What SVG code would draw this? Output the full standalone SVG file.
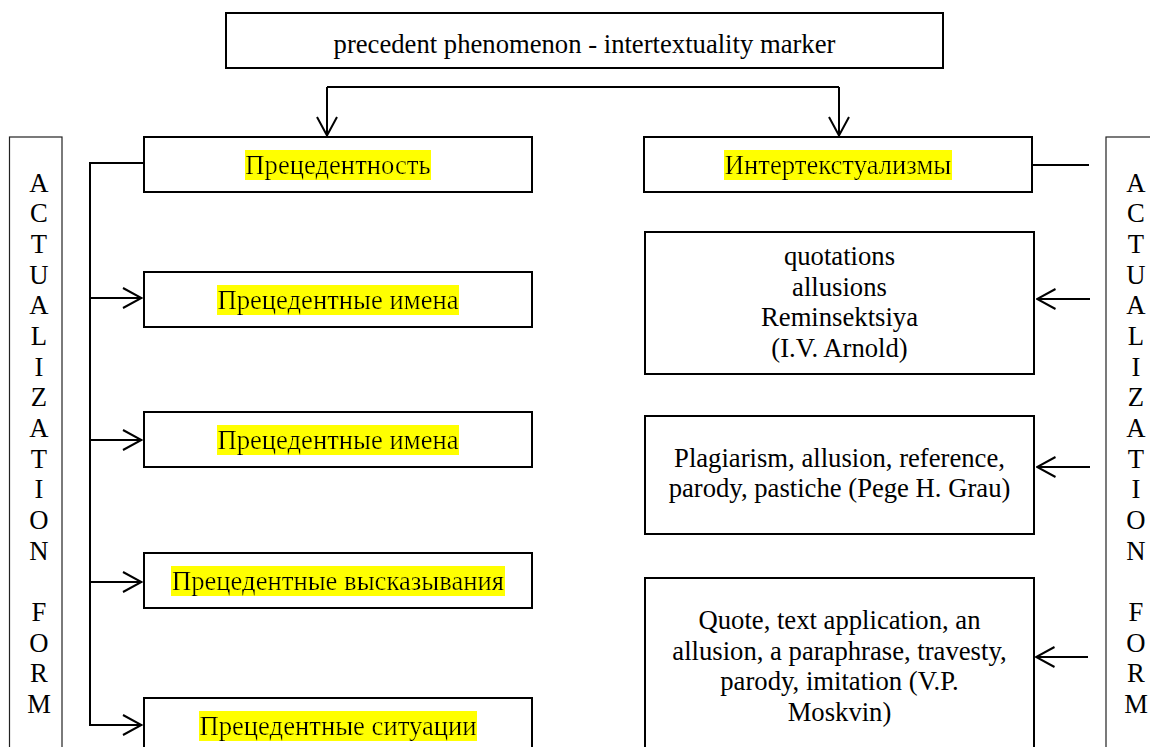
<svg xmlns="http://www.w3.org/2000/svg" width="1150" height="747" viewBox="0 0 1150 747">
  <style>
    text { font-family: "Liberation Serif", "Times New Roman", serif; font-size: 26.67px; fill: #000; }
    .c { text-anchor: middle; }
    .box { fill: #fff; stroke: #000; stroke-width: 2; }
    .side { fill: #fff; stroke: #222; stroke-width: 1.2; }
    .wire { fill: none; stroke: #000; stroke-width: 2; }
    .hl { filter: url(#mark); }
  </style>
  <defs>
    <!-- yellow highlighter behind a text run: flood fills the text's own box -->
    <filter id="mark" x="0" y="0" width="1" height="1">
      <feFlood flood-color="#ffff00"/>
      <feMerge>
        <feMergeNode/>
        <feMergeNode in="SourceGraphic"/>
      </feMerge>
    </filter>
    <marker id="open" viewBox="0 0 21 22" refX="19.5" refY="11" markerWidth="21" markerHeight="22" markerUnits="userSpaceOnUse" orient="auto">
      <path d="M1,1 L19.5,11 L1,21" fill="none" stroke="#000" stroke-width="2"/>
    </marker>
  </defs>

  <!-- vertical side labels -->
  <g id="side-left">
    <rect class="side" x="9.5" y="137" width="52.5" height="630"/>
    <text class="c" x="39" y="191.7">A<tspan x="39" dy="30.67">C</tspan><tspan x="39" dy="30.67">T</tspan><tspan x="39" dy="30.67">U</tspan><tspan x="39" dy="30.67">A</tspan><tspan x="39" dy="30.67">L</tspan><tspan x="39" dy="30.67">I</tspan><tspan x="39" dy="30.67">Z</tspan><tspan x="39" dy="30.67">A</tspan><tspan x="39" dy="30.67">T</tspan><tspan x="39" dy="30.67">I</tspan><tspan x="39" dy="30.67">O</tspan><tspan x="39" dy="30.67">N</tspan><tspan x="39" dy="61.34">F</tspan><tspan x="39" dy="30.67">O</tspan><tspan x="39" dy="30.67">R</tspan><tspan x="39" dy="30.67">M</tspan></text>
  </g>
  <g id="side-right">
    <rect class="side" x="1106" y="137" width="56" height="630"/>
    <text class="c" x="1136" y="191.7">A<tspan x="1136" dy="30.67">C</tspan><tspan x="1136" dy="30.67">T</tspan><tspan x="1136" dy="30.67">U</tspan><tspan x="1136" dy="30.67">A</tspan><tspan x="1136" dy="30.67">L</tspan><tspan x="1136" dy="30.67">I</tspan><tspan x="1136" dy="30.67">Z</tspan><tspan x="1136" dy="30.67">A</tspan><tspan x="1136" dy="30.67">T</tspan><tspan x="1136" dy="30.67">I</tspan><tspan x="1136" dy="30.67">O</tspan><tspan x="1136" dy="30.67">N</tspan><tspan x="1136" dy="61.34">F</tspan><tspan x="1136" dy="30.67">O</tspan><tspan x="1136" dy="30.67">R</tspan><tspan x="1136" dy="30.67">M</tspan></text>
  </g>

  <!-- connectors -->
  <g id="connectors" class="wire">
    <path d="M327,87 H839"/>
    <path d="M327,87 V135.5" marker-end="url(#open)"/>
    <path d="M839,87 V135.5" marker-end="url(#open)"/>
    <path d="M144,163 H90 V725 H141.5" marker-end="url(#open)"/>
    <path d="M90,298 H141.5" marker-end="url(#open)"/>
    <path d="M90,440 H141.5" marker-end="url(#open)"/>
    <path d="M90,582 H141.5" marker-end="url(#open)"/>
    <path d="M1032,165 H1089"/>
    <path d="M1090,299 H1037" marker-end="url(#open)"/>
    <path d="M1090,467 H1037" marker-end="url(#open)"/>
    <path d="M1088,657 H1036" marker-end="url(#open)"/>
  </g>

  <!-- root -->
  <g id="root">
    <rect class="box" x="226" y="13" width="717" height="55"/>
    <text class="c" x="584.5" y="53">precedent phenomenon - intertextuality marker</text>
  </g>

  <!-- left branch -->
  <g id="precedentnost">
    <rect class="box" x="144" y="137" width="388" height="55"/>
    <text class="c hl" x="338" y="174">Прецедентность</text>
  </g>
  <g id="names-1">
    <rect class="box" x="144" y="272" width="388" height="55"/>
    <text class="c hl" x="338" y="309">Прецедентные имена</text>
  </g>
  <g id="names-2">
    <rect class="box" x="144" y="412" width="388" height="55"/>
    <text class="c hl" x="338" y="449">Прецедентные имена</text>
  </g>
  <g id="utterances">
    <rect class="box" x="144" y="553" width="388" height="55"/>
    <text class="c hl" x="338" y="590">Прецедентные высказывания</text>
  </g>
  <g id="situations">
    <rect class="box" x="144" y="698" width="388" height="60"/>
    <text class="c hl" x="338" y="735">Прецедентные ситуации</text>
  </g>

  <!-- right branch -->
  <g id="intertextualisms">
    <rect class="box" x="644" y="137" width="388" height="55"/>
    <text class="c hl" x="838" y="174">Интертекстуализмы</text>
  </g>
  <g id="arnold">
    <rect class="box" x="645" y="232" width="389" height="142"/>
    <text class="c" x="839.5" y="265">quotations<tspan x="839.5" dy="30.67">allusions</tspan><tspan x="839.5" dy="30.67">Reminsektsiya</tspan><tspan x="839.5" dy="30.67">(I.V. Arnold)</tspan></text>
  </g>
  <g id="grau">
    <rect class="box" x="645" y="416" width="389" height="118"/>
    <text class="c" x="839.5" y="466.5">Plagiarism, allusion, reference,<tspan x="839.5" dy="30.67">parody, pastiche (Pege H. Grau)</tspan></text>
  </g>
  <g id="moskvin">
    <rect class="box" x="645" y="578" width="389" height="190"/>
    <text class="c" x="839.5" y="629">Quote, text application, an<tspan x="839.5" dy="30.67">allusion, a paraphrase, travesty,</tspan><tspan x="839.5" dy="30.67">parody, imitation (V.P.</tspan><tspan x="839.5" dy="30.67">Moskvin)</tspan></text>
  </g>
</svg>
